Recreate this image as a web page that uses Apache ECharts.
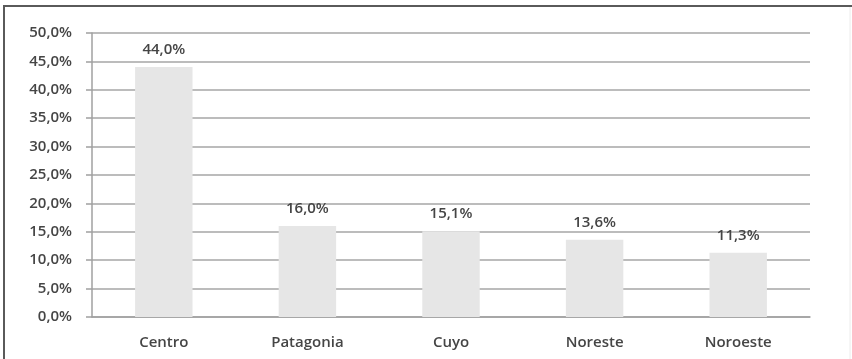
<!DOCTYPE html>
<html>
<head>
<meta charset="utf-8">
<script src="https://cdn.jsdelivr.net/npm/echarts@6/dist/echarts.min.js"></script>
<style>
  html, body { margin: 0; padding: 0; background: #fff; }
  #chart { width: 852px; height: 359px; }
</style>
</head>
<body>
<div id="chart"></div>
<script>
// Regional distribution (percentage) by region
const regions = ['Centro', 'Patagonia', 'Cuyo', 'Noreste', 'Noroeste'];
const shares = [44.0, 16.0, 15.1, 13.6, 11.3];
const yMin = 0;
const yMax = 50;
const yStep = 5;

const pct = v => v.toFixed(1).replace('.', ',') + '%';
const FONT = '"Open Sans", "Liberation Sans", Arial, sans-serif';
const TEXT = { color: '#454545', fontFamily: FONT, fontSize: 15, fontWeight: 600 };

const chart = echarts.init(document.getElementById('chart'), null, { renderer: 'canvas' });
chart.setOption({
  animation: false,
  backgroundColor: '#ffffff',
  grid: { left: 92, right: 42, top: 33, bottom: 42, containLabel: false },
  xAxis: {
    type: 'category',
    data: regions,
    axisLine: { show: true, lineStyle: { color: '#a0a0a0', width: 1.5 } },
    axisTick: { show: false },
    axisLabel: Object.assign({ margin: 18 }, TEXT)
  },
  yAxis: {
    type: 'value',
    min: yMin,
    max: yMax,
    interval: yStep,
    axisLine: { show: true, lineStyle: { color: '#a0a0a0', width: 1.5 } },
    axisTick: { show: true, length: 6, lineStyle: { color: '#a0a0a0', width: 1.5 } },
    splitLine: { show: true, lineStyle: { color: '#a6a6a6', width: 1.5 } },
    axisLabel: Object.assign({ margin: 20, formatter: pct }, TEXT)
  },
  series: [{
    type: 'bar',
    data: shares,
    barWidth: '40%',
    itemStyle: { color: '#e6e6e6' },
    label: Object.assign({
      show: true,
      position: 'top',
      distance: 10,
      formatter: p => pct(p.value)
    }, TEXT)
  }],
  graphic: [
    { type: 'polyline', shape: { points: [[4, 359], [4, 6], [852, 6]] },
      style: { stroke: '#5a5a5a', lineWidth: 2, fill: null } },
    { type: 'line', shape: { x1: 850, y1: 7, x2: 850, y2: 359 },
      style: { stroke: '#ececec', lineWidth: 1 } }
  ]
});
</script>
</body>
</html>
